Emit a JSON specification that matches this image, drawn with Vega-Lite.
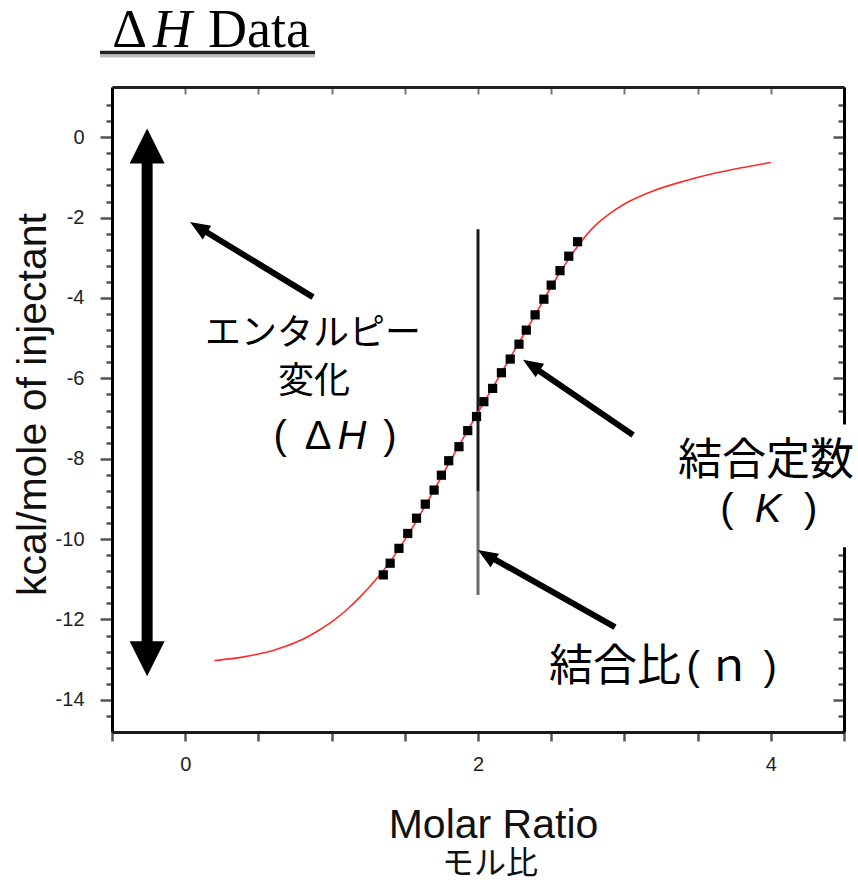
{
  "$schema": "https://vega.github.io/schema/vega-lite/v6.json",
  "width": 732,
  "height": 645,
  "autosize": {"type": "none"},
  "padding": {"left": 112, "top": 87, "right": 14, "bottom": 152},
  "background": "white",
  "config": {"view": {"stroke": null}, "axis": {"grid": false}},
  "datasets": {
    "curve": [
      {"x": 0.2, "y": -13.02}, {"x": 0.3, "y": -12.98}, {"x": 0.4, "y": -12.93}, {"x": 0.5, "y": -12.86},
      {"x": 0.6, "y": -12.77}, {"x": 0.7, "y": -12.65}, {"x": 0.8, "y": -12.5}, {"x": 0.9, "y": -12.3},
      {"x": 1.0, "y": -12.06}, {"x": 1.1, "y": -11.77}, {"x": 1.2, "y": -11.42}, {"x": 1.3, "y": -11.02},
      {"x": 1.4, "y": -10.56}, {"x": 1.5, "y": -10.02}, {"x": 1.6, "y": -9.42}, {"x": 1.7, "y": -8.78},
      {"x": 1.8, "y": -8.12}, {"x": 1.9, "y": -7.48}, {"x": 2.0, "y": -6.85}, {"x": 2.1, "y": -6.23},
      {"x": 2.2, "y": -5.61}, {"x": 2.3, "y": -4.99}, {"x": 2.4, "y": -4.36}, {"x": 2.5, "y": -3.72},
      {"x": 2.6, "y": -3.14}, {"x": 2.7, "y": -2.62}, {"x": 2.8, "y": -2.2}, {"x": 2.9, "y": -1.9},
      {"x": 3.0, "y": -1.66}, {"x": 3.1, "y": -1.48}, {"x": 3.2, "y": -1.33}, {"x": 3.4, "y": -1.1},
      {"x": 3.6, "y": -0.91}, {"x": 3.8, "y": -0.76}, {"x": 4.0, "y": -0.63}
    ],
    "points": [
      {"x": 1.353, "y": -10.89}, {"x": 1.40, "y": -10.6}, {"x": 1.46, "y": -10.23}, {"x": 1.52, "y": -9.86},
      {"x": 1.58, "y": -9.48}, {"x": 1.64, "y": -9.13}, {"x": 1.70, "y": -8.78}, {"x": 1.75, "y": -8.41},
      {"x": 1.80, "y": -8.05}, {"x": 1.87, "y": -7.7}, {"x": 1.93, "y": -7.3}, {"x": 1.99, "y": -6.95},
      {"x": 2.04, "y": -6.58}, {"x": 2.10, "y": -6.25}, {"x": 2.16, "y": -5.86}, {"x": 2.22, "y": -5.52},
      {"x": 2.28, "y": -5.15}, {"x": 2.33, "y": -4.8}, {"x": 2.39, "y": -4.42}, {"x": 2.45, "y": -4.03},
      {"x": 2.50, "y": -3.68}, {"x": 2.56, "y": -3.32}, {"x": 2.62, "y": -2.96}, {"x": 2.68, "y": -2.6}
    ],
    "nline_dark": [{"x": 2.0, "y": -2.29, "y2": -8.8}],
    "nline_light": [{"x": 2.0, "y": -8.8, "y2": -11.39}],
    "bigshaft": [{"x": -0.26, "y": -0.55, "y2": -12.7}],
    "bighead_up": [{"x": -0.26, "y": -0.219}],
    "bighead_down": [{"x": -0.26, "y": -12.98}],
    "arrows": [
      {"x": 0.873, "y": -3.98, "x2": 0.091, "y2": -2.24},
      {"x": 3.059, "y": -7.41, "x2": 2.364, "y2": -5.68},
      {"x": 2.936, "y": -12.19, "x2": 2.059, "y2": -10.39}
    ],
    "arrowtips": [
      {"x": 0.033, "y": -2.11}, {"x": 2.307, "y": -5.54}, {"x": 1.999, "y": -10.27}
    ],
    "whitebox": [{"x": 3.3, "x2": 4.8, "y": -7.15, "y2": -10.2}],
    "jp36": [
      {"label": "エンタルピー", "x": 0.873, "y": -4.9},
      {"label": "変化", "x": 0.88, "y": -6.09}
    ],
    "jp44": [
      {"label": "結合定数", "x": 3.967, "y": -8.082},
      {"label": "結合比", "x": 2.936, "y": -13.207},
      {"label": "ｎ", "x": 3.715, "y": -13.207}
    ],
    "jp32": [
      {"label": "モル比", "x": 2.082, "y": -18.08}
    ],
    "latin": [
      {"label": "(", "x": 0.648, "y": -7.459},
      {"label": "Δ", "x": 0.907, "y": -7.459},
      {"label": ")", "x": 1.399, "y": -7.459},
      {"label": "(", "x": 3.701, "y": -9.276},
      {"label": ")", "x": 4.272, "y": -9.276},
      {"label": "(", "x": 3.469, "y": -13.207},
      {"label": ")", "x": 3.995, "y": -13.207}
    ],
    "italic": [
      {"label": "H", "x": 1.139, "y": -7.459},
      {"label": "K", "x": 3.981, "y": -9.276}
    ],
    "title_up": [
      {"label": "Δ", "x": -0.499, "y": 2.244},
      {"label": "Data", "x": 0.156, "y": 2.244}
    ],
    "title_it": [{"label": "H", "x": -0.22, "y": 2.244}],
    "underline_shadow": [{"x": -0.582, "x2": 0.887, "y": 2.02}],
    "underline": [{"x": -0.582, "x2": 0.887, "y": 2.107}]
  },
  "encoding": {
    "x": {"field": "x", "type": "quantitative", "scale": {"domain": [-0.5, 4.5], "nice": false, "zero": false}, "axis": null},
    "y": {"field": "y", "type": "quantitative", "scale": {"domain": [-14.8, 1.25], "nice": false, "zero": false}, "axis": null}
  },
  "resolve": {"scale": {"x": "independent", "y": "independent"}, "axis": {"x": "independent", "y": "independent"}},
  "layer": [
    {
      "data": {"name": "whitebox"},
      "mark": {"type": "rect", "fill": "white", "clip": false},
      "encoding": {"x2": {"field": "x2"}, "y2": {"field": "y2"}}
    },
    {
      "data": {"name": "nline_dark"},
      "mark": {"type": "rule", "color": "#1a1a1a", "strokeWidth": 3},
      "encoding": {"y2": {"field": "y2"}}
    },
    {
      "data": {"name": "nline_light"},
      "mark": {"type": "rule", "color": "#6a6a6a", "strokeWidth": 3},
      "encoding": {"y2": {"field": "y2"}}
    },
    {
      "data": {"name": "curve"},
      "mark": {"type": "line", "color": "#ff2b2b", "strokeWidth": 1.6, "interpolate": "monotone"},
      "encoding": {
        "x": {
          "field": "x", "type": "quantitative",
          "scale": {"domain": [-0.5, 4.5], "nice": false, "zero": false},
          "axis": {
            "orient": "bottom",
            "values": [-0.5, 0, 0.5, 1, 1.5, 2, 2.5, 3, 3.5, 4, 4.5],
            "tickSize": 9, "tickWidth": 2.5, "tickColor": "#555",
            "domainColor": "#1a1a1a", "domainWidth": 3,
            "labelExpr": "abs(datum.value/2 - round(datum.value/2)) < 0.01 ? '' + round(datum.value) : ''",
            "labelFont": "Liberation Sans", "labelFontSize": 20, "labelColor": "#222", "labelPadding": 13,
            "labelFlush": false, "labelOverlap": false, "labelBound": false,
            "title": "Molar Ratio",
            "titleFont": "Liberation Sans", "titleFontSize": 41, "titleFontWeight": "normal",
            "titleColor": "#111", "titleX": 381, "titleY": 105, "titleAlign": "center", "titleBaseline": "alphabetic"
          }
        },
        "y": {
          "field": "y", "type": "quantitative",
          "scale": {"domain": [-14.8, 1.25], "nice": false, "zero": false},
          "axis": {
            "orient": "left",
            "values": [0.8, 0.4, 0, -0.4, -0.8, -1.2, -1.6, -2, -2.4, -2.8, -3.2, -3.6, -4, -4.4, -4.8, -5.2, -5.6, -6, -6.4, -6.8, -7.2, -7.6, -8, -8.4, -8.8, -9.2, -9.6, -10, -10.4, -10.8, -11.2, -11.6, -12, -12.4, -12.8, -13.2, -13.6, -14, -14.4],
            "tickSize": {"condition": {"test": "abs(datum.value/2 - round(datum.value/2)) < 0.01", "value": 12}, "value": 6},
            "tickWidth": 2.5, "tickColor": "#555",
            "domainColor": "#000", "domainWidth": 3,
            "labelExpr": "abs(datum.value/2 - round(datum.value/2)) < 0.01 ? (datum.value < -0.01 ? '-' + round(-datum.value) : '0') : ''",
            "labelFont": "Liberation Sans", "labelFontSize": 20, "labelColor": "#222", "labelPadding": 16,
            "labelFlush": false, "labelOverlap": false, "labelBound": false,
            "title": "kcal/mole of injectant",
            "titleFont": "Liberation Sans", "titleFontSize": 41, "titleFontWeight": "normal", "titleColor": "#111",
            "titleAngle": -90, "titleX": -79, "titleY": 317, "titleAlign": "center", "titleBaseline": "middle"
          }
        }
      }
    },
    {
      "data": {"name": "points"},
      "mark": {"type": "point", "shape": "square", "filled": true, "color": "#000", "size": 85, "opacity": 1},
      "encoding": {
        "x": {
          "field": "x", "type": "quantitative",
          "scale": {"domain": [-0.5, 4.5], "nice": false, "zero": false},
          "axis": {
            "orient": "top",
            "values": [-0.5, 0, 0.5, 1, 1.5, 2, 2.5, 3, 3.5, 4, 4.5],
            "tickSize": -7, "tickWidth": 2, "tickColor": "#777",
            "domainColor": "#222", "domainWidth": 3,
            "labels": false, "title": null
          }
        },
        "y": {
          "field": "y", "type": "quantitative",
          "scale": {"domain": [-14.8, 1.25], "nice": false, "zero": false},
          "axis": {
            "orient": "right",
            "values": [0.8, 0.4, 0, -0.4, -0.8, -1.2, -1.6, -2, -2.4, -2.8, -3.2, -3.6, -4, -4.4, -4.8, -5.2, -5.6, -6, -6.4, -6.8, -7.2, -7.6, -8, -8.4, -8.8, -9.2, -9.6, -10, -10.4, -10.8, -11.2, -11.6, -12, -12.4, -12.8, -13.2, -13.6, -14, -14.4],
            "tickSize": {"condition": {"test": "abs(datum.value/2 - round(datum.value/2)) < 0.01", "value": -11}, "value": -6},
            "tickWidth": 2.5, "tickColor": "#555",
            "domainColor": "#000", "domainWidth": 3,
            "labels": false, "title": null
          }
        }
      }
    },
    {
      "data": {"name": "bigshaft"},
      "mark": {"type": "rule", "color": "#000", "strokeWidth": 11},
      "encoding": {"y2": {"field": "y2"}}
    },
    {
      "data": {"name": "bighead_up"},
      "mark": {"type": "point", "shape": "M0,-1L1,1L-1,1Z", "filled": true, "color": "#000", "size": 1225, "opacity": 1, "clip": false},
      "encoding": {}
    },
    {
      "data": {"name": "bighead_down"},
      "mark": {"type": "point", "shape": "M0,1L1,-1L-1,-1Z", "filled": true, "color": "#000", "size": 1225, "opacity": 1, "clip": false},
      "encoding": {}
    },
    {
      "data": {"name": "arrows"},
      "mark": {"type": "rule", "color": "#000", "strokeWidth": 6},
      "encoding": {"x2": {"field": "x2"}, "y2": {"field": "y2"}}
    },
    {
      "data": {"name": "arrowtips"},
      "mark": {"type": "point", "shape": "M0,0L0.8,2L-0.8,2Z", "filled": true, "color": "#000", "size": 400, "opacity": 1, "angle": 302},
      "encoding": {}
    },
    {
      "data": {"name": "jp36"},
      "mark": {"type": "text", "font": "Noto Sans CJK JP", "fontSize": 36, "color": "#000", "align": "center", "baseline": "middle", "clip": false},
      "encoding": {"text": {"field": "label"}}
    },
    {
      "data": {"name": "jp44"},
      "mark": {"type": "text", "font": "Noto Sans CJK JP", "fontSize": 44, "color": "#000", "align": "center", "baseline": "middle", "clip": false},
      "encoding": {"text": {"field": "label"}}
    },
    {
      "data": {"name": "jp32"},
      "mark": {"type": "text", "font": "Noto Sans CJK JP", "fontSize": 32, "color": "#111", "align": "center", "baseline": "middle", "clip": false},
      "encoding": {"text": {"field": "label"}}
    },
    {
      "data": {"name": "latin"},
      "mark": {"type": "text", "font": "Liberation Sans", "fontSize": 40, "color": "#000", "align": "center", "baseline": "middle", "clip": false},
      "encoding": {"text": {"field": "label"}}
    },
    {
      "data": {"name": "italic"},
      "mark": {"type": "text", "font": "Liberation Sans", "fontStyle": "italic", "fontSize": 40, "color": "#000", "align": "center", "baseline": "middle", "clip": false},
      "encoding": {"text": {"field": "label"}}
    },
    {
      "data": {"name": "title_up"},
      "mark": {"type": "text", "font": "Liberation Serif", "fontSize": 54, "color": "#000", "align": "left", "baseline": "alphabetic", "clip": false},
      "encoding": {"text": {"field": "label"}}
    },
    {
      "data": {"name": "title_it"},
      "mark": {"type": "text", "font": "Liberation Serif", "fontStyle": "italic", "fontSize": 54, "color": "#000", "align": "left", "baseline": "alphabetic", "clip": false},
      "encoding": {"text": {"field": "label"}}
    },
    {
      "data": {"name": "underline_shadow"},
      "mark": {"type": "rule", "color": "#bdbdbd", "strokeWidth": 3, "clip": false},
      "encoding": {"x2": {"field": "x2"}}
    },
    {
      "data": {"name": "underline"},
      "mark": {"type": "rule", "color": "#222", "strokeWidth": 3.5, "clip": false},
      "encoding": {"x2": {"field": "x2"}}
    }
  ]
}
